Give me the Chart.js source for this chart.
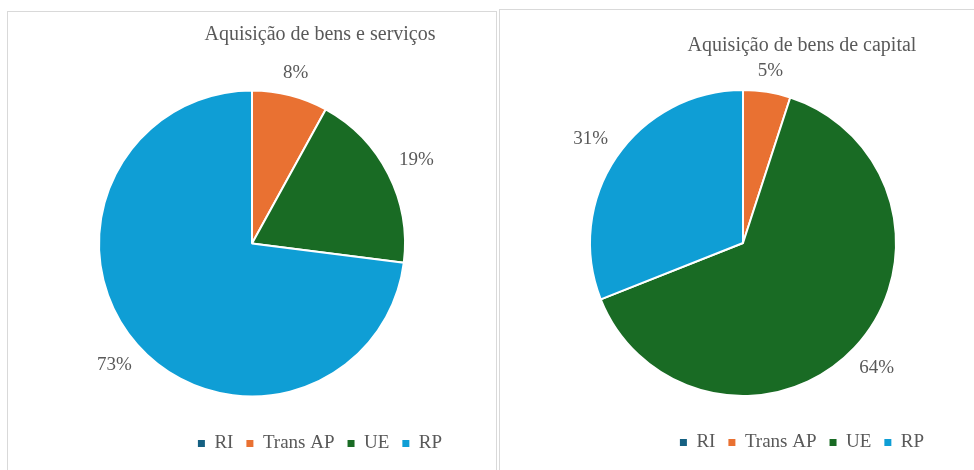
<!DOCTYPE html>
<html><head><meta charset="utf-8">
<script src="https://cdn.jsdelivr.net/npm/chart.js@4.4.1/dist/chart.umd.min.js"></script>
<style>
html,body{margin:0;padding:0;background:#fff;overflow:hidden;width:974px;height:470px;}
.panel{position:absolute;border:1px solid #d9d9d9;border-bottom:none;box-sizing:border-box;background:#fff;}
canvas{position:absolute;}
</style></head><body>
<div class="panel" style="left:7px;top:11px;width:490px;height:470px;"></div>
<div class="panel" style="left:499px;top:9px;width:500px;height:470px;"></div>
<canvas id="c1" width="542" height="463" style="left:0;top:0;width:542px;height:463px"></canvas>
<canvas id="c2" width="515" height="462" style="left:500px;top:0;width:515px;height:462px"></canvas>
<script>
const categories = ['RI', 'Trans AP', 'UE', 'RP'];
const bensServicos = [0, 8, 19, 73];
const bensCapital = [0, 5, 64, 31];
const titleServicos = 'Aquisição de bens e serviços';
const titleCapital = 'Aquisição de bens de capital';
const colors = ['#156082', '#E97132', '#196B24', '#0F9ED5'];

const FONT = '"Liberation Serif", "Times New Roman", serif';
const TEXT = '#595959';

const outLabels = {
  id: 'outLabels',
  afterDatasetsDraw(chart, args, opts) {
    const ctx = chart.ctx;
    const meta = chart.getDatasetMeta(0);
    const data = chart.data.datasets[0].data;
    ctx.save();
    ctx.font = '19px ' + FONT;
    ctx.fillStyle = TEXT;
    ctx.textAlign = 'center';
    ctx.textBaseline = 'middle';
    meta.data.forEach((arc, i) => {
      const v = data[i];
      if (!v) return;
      const p = arc.getProps(['x', 'y', 'startAngle', 'endAngle', 'outerRadius'], true);
      const mid = (p.startAngle + p.endAngle) / 2;
      const ux = Math.cos(mid), uy = Math.sin(mid);
      const txt = v + '%';
      const w = ctx.measureText(txt).width, h = 13.4;
      const d = p.outerRadius + opts.gap + Math.abs(ux) * w / 2 + Math.abs(uy) * h / 2;
      ctx.fillText(txt, p.x + ux * d, p.y + uy * d);
    });
    ctx.restore();
  }
};

function legendLabels(chart) {
  const base = Chart.overrides.doughnut.plugins.legend.labels.generateLabels(chart);
  return base.map(l => Object.assign({}, l, {lineWidth: 0, strokeStyle: l.fillStyle, hidden: false}));
}

function makeChart(id, values, title, padLeft, spacer, tTop, tBottom) {
  return new Chart(document.getElementById(id), {
    type: 'pie',
    data: {
      labels: categories,
      datasets: [{
        data: values,
        backgroundColor: colors,
        borderColor: '#ffffff',
        borderWidth: 2
      }]
    },
    options: {
      responsive: false,
      animation: false,
      events: [],
      layout: {padding: {left: padLeft, right: 0, top: 0, bottom: 0}},
      plugins: {
        tooltip: {enabled: false},
        outLabels: {gap: 13},
        title: {
          display: true,
          text: title,
          color: TEXT,
          font: {family: FONT, size: 20, weight: 'normal', lineHeight: 1.2},
          padding: {top: tTop, bottom: tBottom}
        },
        subtitle: {
          display: true,
          text: '',
          position: 'right',
          fullSize: false,
          font: {size: 10, lineHeight: 1},
          padding: {top: spacer - 10, bottom: 0}
        },
        legend: {
          display: true,
          position: 'bottom',
          labels: {
            boxWidth: 7,
            boxHeight: 7,
            padding: 13,
            color: TEXT,
            font: {family: FONT, size: 19},
            generateLabels: legendLabels
          }
        }
      }
    },
    plugins: [outLabels]
  });
}

makeChart('c1', bensServicos, titleServicos, 98, 136, 23, 19);
makeChart('c2', bensCapital, titleCapital, 89, 118, 34, 8);
</script>
</body></html>
